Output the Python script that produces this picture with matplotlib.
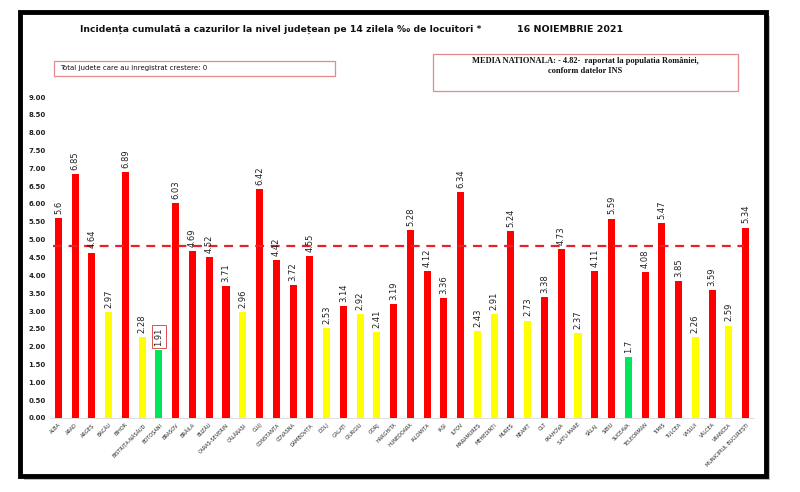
import numpy as np
import matplotlib.pyplot as plt
from matplotlib.patches import Rectangle

judete = ["ALBA", "ARAD", "ARGEȘ", "BACĂU", "BIHOR", "BISTRIȚA-NĂSĂUD", "BOTOȘANI",
          "BRAȘOV", "BRĂILA", "BUZĂU", "CARAȘ-SEVERIN", "CĂLĂRAȘI", "CLUJ", "CONSTANȚA",
          "COVASNA", "DÂMBOVIȚA", "DOLJ", "GALAȚI", "GIURGIU", "GORJ", "HARGHITA",
          "HUNEDOARA", "IALOMIȚA", "IAȘI", "ILFOV", "MARAMUREȘ", "MEHEDINȚI", "MUREȘ",
          "NEAMȚ", "OLT", "PRAHOVA", "SATU MARE", "SĂLAJ", "SIBIU", "SUCEAVA",
          "TELEORMAN", "TIMIȘ", "TULCEA", "VASLUI", "VÂLCEA", "VRANCEA",
          "MUNICIPIUL BUCUREȘTI"]
incidenta = [5.6, 6.85, 4.64, 2.97, 6.89, 2.28, 1.91, 6.03, 4.69, 4.52, 3.71, 2.96,
             6.42, 4.42, 3.72, 4.55, 2.53, 3.14, 2.92, 2.41, 3.19, 5.28, 4.12, 3.36,
             6.34, 2.43, 2.91, 5.24, 2.73, 3.38, 4.73, 2.37, 4.11, 5.59, 1.7, 4.08,
             5.47, 3.85, 2.26, 3.59, 2.59, 5.34]
media_nationala = 4.82
yticks = np.arange(0, 9.01, 0.5)


def culoare(v):
    if v < 2:
        return "#00e65c"
    elif v < 3:
        return "#ffff00"
    return "#ff0000"


W, H = 800, 492
fig = plt.figure(figsize=(8, 4.92), dpi=100)
fig.patch.set_facecolor("white")

# chenarul negru cu umbra
fig.patches.append(Rectangle((24 / W, 1 - 480 / H), 746 / W, 464 / H, transform=fig.transFigure,
                             facecolor="#bbbbbb", edgecolor="none", zorder=0))
fig.patches.append(Rectangle((20 / W, 1 - 476 / H), 746 / W, 464 / H, transform=fig.transFigure,
                             facecolor="white", edgecolor="black", linewidth=3.5, zorder=1))

ax = fig.add_axes([50 / W, 1 - 418 / H, 704 / W, 321 / H])
ax.set_facecolor("none")
ax.set_zorder(2)

x = np.arange(len(judete))
culori = [culoare(v) for v in incidenta]
ax.bar(x, incidenta, width=0.42, color=culori, zorder=2)

ax.plot([-0.3, len(judete) - 1.1], [media_nationala, media_nationala],
        color="#e8202a", linestyle=(0, (4, 3)), linewidth=1.6, zorder=3)

for xi, v in zip(x, incidenta):
    box = None
    if v == 1.91:
        box = dict(boxstyle="square,pad=0.25", facecolor="white", edgecolor="#d9534f", linewidth=0.7)
    ax.annotate(str(v), (xi, v), xytext=(0, 3), textcoords="offset points", rotation=90,
                ha="center", va="bottom", fontsize=6, color="#222222", bbox=box, zorder=4)

ax.set_xlim(-0.5, len(judete) - 0.5)
ax.set_ylim(0, 9)
ax.set_yticks(yticks)
ax.set_yticklabels(["%.2f" % t for t in yticks], fontsize=5, fontweight="bold", color="#222222")
ax.set_xticks(x)
ax.set_xticklabels(judete, rotation=45, ha="right", rotation_mode="anchor", fontsize=3.6,
                   color="#222222")
ax.tick_params(axis="both", length=0, pad=3)
for s in ["top", "right", "left"]:
    ax.spines[s].set_visible(False)
ax.spines["bottom"].set_color("#d9d9d9")
ax.spines["bottom"].set_linewidth(0.6)

fig.text(80 / W, 1 - 29 / H,
         "Incidența cumulată a cazurilor la nivel județean pe 14 zilela ‰ de locuitori *",
         fontsize=6.7, fontweight="bold", ha="left", va="center", color="#111111", zorder=5)
fig.text(517 / W, 1 - 30 / H, "16 NOIEMBRIE 2021", fontsize=6.8, fontweight="bold",
         ha="left", va="center", color="#111111", zorder=5)

# caseta stanga
fig.patches.append(Rectangle((54 / W, 1 - 76 / H), 281 / W, 15 / H, transform=fig.transFigure,
                             facecolor="white", edgecolor="#e58a8a", linewidth=0.9, zorder=4))
fig.text(60 / W, 1 - 68.5 / H, "Total judete care au inregistrat crestere: 0", fontsize=5,
         ha="left", va="center", color="#111111", zorder=5)

# caseta dreapta
fig.patches.append(Rectangle((433 / W, 1 - 91 / H), 305 / W, 37 / H, transform=fig.transFigure,
                             facecolor="white", edgecolor="#e58a8a", linewidth=0.9, zorder=4))
fig.text(585 / W, 1 - 66 / H,
         "MEDIA NATIONALA: - 4.82-  raportat la populatia României,\nconform datelor INS",
         fontsize=6, fontweight="bold", family="Liberation Serif", ha="center", va="center",
         linespacing=1.3, color="#111111", zorder=5)

plt.savefig("out.png", dpi=100)
